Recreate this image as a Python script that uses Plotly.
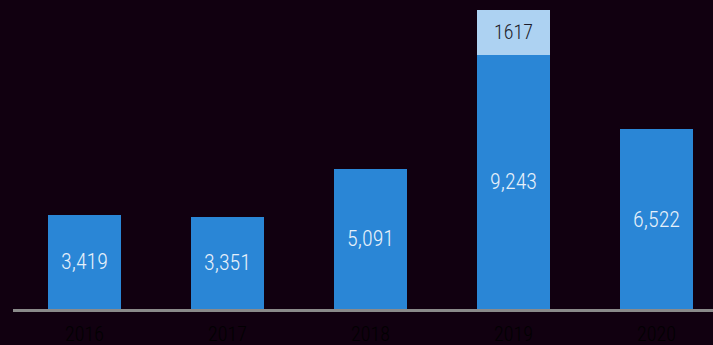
import plotly.graph_objects as go

years = ["2016", "2017", "2018", "2019", "2020"]
base_values = [3419, 3351, 5091, 9243, 6522]
extra_values = [None, None, None, 1617, None]

base_labels = [f"{v:,}" for v in base_values]
extra_labels = [("" if v is None else str(v)) for v in extra_values]

FONT = "Roboto Condensed, Roboto, sans-serif"

fig = go.Figure()
fig.add_trace(go.Bar(
    x=years, y=base_values, text=base_labels,
    textposition="inside", insidetextanchor="middle",
    textfont=dict(family=FONT, size=22, color="#e6f0fa", weight=300),
    marker=dict(color="#2a86d6", line=dict(width=0)),
    constraintext="none", hoverinfo="skip",
))
fig.add_trace(go.Bar(
    x=years, y=extra_values, text=extra_labels,
    textposition="inside", insidetextanchor="middle",
    textfont=dict(family=FONT, size=20, color="#1c1c2a", weight=300),
    marker=dict(color="#add2f2", line=dict(width=0)),
    constraintext="none", hoverinfo="skip",
))

fig.update_layout(
    width=713, height=345,
    margin=dict(l=13, r=0, t=0, b=36, pad=0, autoexpand=False),
    barmode="stack", bargap=0.495,
    paper_bgcolor="#110010", plot_bgcolor="#110010",
    showlegend=False,
    xaxis=dict(
        range=[-0.5, 4.395], showgrid=False, zeroline=False,
        showline=True, linecolor="#8a8a8a", linewidth=3,
        ticks="", ticklabelstandoff=5, automargin=False,
        tickfont=dict(family=FONT, size=20, color="#020002", weight=300),
        fixedrange=True,
    ),
    yaxis=dict(
        range=[0, 11224], visible=False, showgrid=False, zeroline=False,
        fixedrange=True, automargin=False,
    ),
)

fig.write_html("out.html", config={"displayModeBar": False},
               post_script="document.body.style.margin='0';document.body.style.background='#110010';")
